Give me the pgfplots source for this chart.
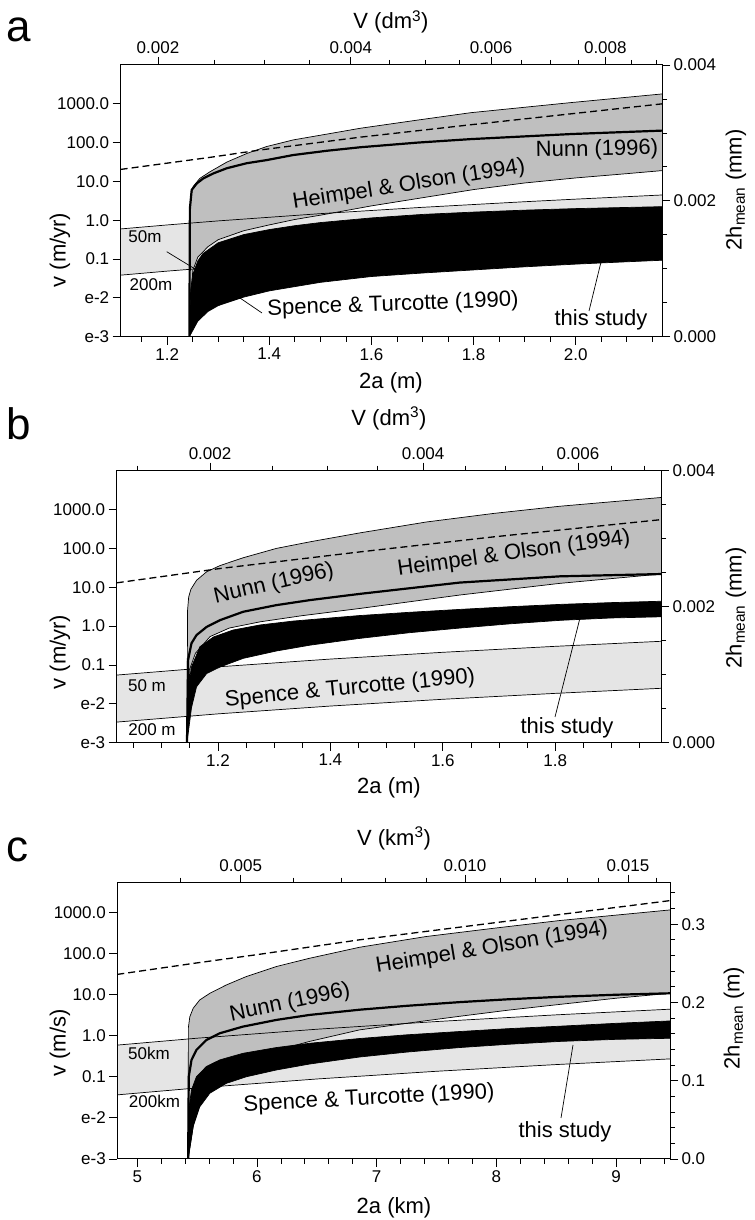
\documentclass[border=0pt]{standalone}
\usepackage{pgfplots}
\pgfplotsset{compat=1.18}
\usepgfplotslibrary{fillbetween}
\usepackage{fontspec}
\setmainfont{Liberation Sans}
\newcommand{\tlf}{\fontsize{17bp}{19bp}\selectfont}
\newcommand{\alf}{\fontsize{22bp}{24bp}\selectfont}
\newcommand{\smf}{\fontsize{17bp}{19bp}\selectfont}
\newcommand{\plf}{\fontsize{44bp}{44bp}\selectfont}
\definecolor{hogray}{gray}{0.75}
\definecolor{stgray}{gray}{0.90}
\tikzset{
  thinl/.style={black, line width=0.7bp},
  nunnl/.style={black, line width=2.2bp},
  dashl/.style={black, line width=1.3bp, dash pattern=on 7bp off 4bp},
}
\pgfplotsset{
  panel/.style={scale only axis, anchor=south west, scaled ticks=false,
    tick align=outside, major tick length=8bp, minor tick length=5bp,
    every tick/.style={black, line width=0.8bp},
    axis line style={line width=1bp},
    tick label style={font=\tlf}},
}
\begin{document}
\begin{tikzpicture}
%%%%%%%%%%%%%%%%%%%% panel a
\begin{axis}[panel, set layers, axis on top, width=541.3bp, height=271.7bp, at={(120.7bp,883.3bp)},
  xmin=1.109, xmax=2.169, ymode=log, ymin=1e-3, ymax=1e4, yminorticks=false,
  xtick={1.2,1.4,1.6,1.8,2.0}, xticklabels={1.2,1.4,1.6,1.8,2.0},
  minor xtick={1.15,1.25,1.3,1.35,1.45,1.5,1.55,1.65,1.7,1.75,1.85,1.9,1.95,2.05,2.1,2.15},
  ytick={1e-3,1e-2,1e-1,1,10,100,1000}, yticklabels={e-3,e-2,0.1,1.0,10.0,100.0,1000.0},
  xtick pos=left, ytick pos=left]
\addplot[thinl, name path=STu] coordinates {(1.109,0.597) (1.2,0.757) (1.3,0.962) (1.5,1.479) (1.7,2.153) (1.9,3.0) (2.0,3.50) (2.17,4.48)};
\addplot[thinl, name path=STl] coordinates {(1.109,0.0385) (1.2,0.0489) (1.3,0.0621) (1.5,0.0955) (1.7,0.139) (1.9,0.194) (2.0,0.226) (2.17,0.289)};
\addplot[thinl, name path=HOu] coordinates {(1.2435,0.001) (1.2445,2.0) (1.247,4.47) (1.251,7.41) (1.264,12.0) (1.284,17.8) (1.317,31.6) (1.356,52.5) (1.395,79.4) (1.447,117.5) (1.513,166) (1.578,234) (1.69,380) (1.794,589) (1.99,1072) (2.17,1799)};
\addplot[thinl, name path=HOl] coordinates {(1.2435,0.001) (1.25,0.0501) (1.26,0.112) (1.28,0.209) (1.30,0.316) (1.35,0.537) (1.40,0.759) (1.45,1.047) (1.50,1.349) (1.60,2.344) (1.70,3.802) (1.80,6.166) (1.90,9.12) (2.00,12.3) (2.10,15.85) (2.17,19.05)};
\addplot[thinl, name path=BKu] coordinates {(1.2435,0.001) (1.246,0.0158) (1.25,0.0398) (1.26,0.0891) (1.27,0.138) (1.30,0.263) (1.35,0.427) (1.40,0.575) (1.45,0.724) (1.50,0.871) (1.60,1.148) (1.70,1.413) (1.80,1.622) (1.90,1.82) (2.00,1.995) (2.10,2.138) (2.17,2.239)};
\addplot[thinl, name path=BKl] coordinates {(1.2435,0.001) (1.26,0.00251) (1.28,0.00447) (1.30,0.00631) (1.35,0.01047) (1.40,0.01514) (1.50,0.0251) (1.60,0.0355) (1.70,0.0437) (1.80,0.0525) (1.90,0.0631) (2.00,0.0741) (2.10,0.0851) (2.17,0.0933)};
\addplot[stgray] fill between[of=STu and STl];
\addplot[hogray] fill between[of=HOu and HOl];
\addplot[black] fill between[of=BKu and BKl];
\addplot[dashl] coordinates {(1.109,20.4) (1.284,41.7) (1.382,64.6) (1.578,138) (1.794,288) (1.99,550) (2.17,1000)};
\addplot[nunnl] coordinates {(1.2435,0.001) (1.2445,2.0) (1.248,6.03) (1.258,8.91) (1.271,12.0) (1.291,16.2) (1.317,21.9) (1.356,29.5) (1.395,35.5) (1.447,47.9) (1.513,61.7) (1.578,75.9) (1.69,100) (1.794,123) (1.99,166) (2.17,204)};
\end{axis}
\begin{axis}[panel, width=541.3bp, height=271.7bp, at={(120.7bp,883.3bp)},
  xmin=1.109, xmax=2.169, ymin=0, ymax=0.004,
  xtick={1.182,1.5596,1.8342,2.0580}, xticklabels={0.002,0.004,0.006,0.008},
  minor xtick={1.2924,1.3902,1.4786,1.6349,1.7053,1.7715,1.8939,1.9510,2.0056,2.1085,2.1572},
  ytick={0,0.002,0.004}, yticklabels={0.000,0.002,0.004},
  minor ytick={0.0005,0.001,0.0015,0.0025,0.003,0.0035},
  xtick pos=right, xticklabel pos=right, ytick pos=right, yticklabel pos=right]
\addplot[draw=none] coordinates {(1.5,0.002)};
\end{axis}
%%%%%%%%%%%%%%%%%%%% panel b
\begin{axis}[panel, set layers, axis on top, width=544.3bp, height=272bp, at={(116.7bp,477.3bp)},
  xmin=1.02, xmax=1.988, ymode=log, ymin=1e-3, ymax=1e4, yminorticks=false,
  xtick={1.2,1.4,1.6,1.8}, xticklabels={1.2,1.4,1.6,1.8},
  minor xtick={1.05,1.1,1.15,1.25,1.3,1.35,1.45,1.5,1.55,1.65,1.7,1.75,1.85,1.9,1.95},
  ytick={1e-3,1e-2,1e-1,1,10,100,1000}, yticklabels={e-3,e-2,0.1,1.0,10.0,100.0,1000.0},
  xtick pos=left, ytick pos=left]
\addplot[thinl, name path=STu] coordinates {(1.02,0.0550) (1.2,0.0895) (1.4,0.142) (1.6,0.212) (1.8,0.302) (1.988,0.407)};
\addplot[thinl, name path=STl] coordinates {(1.02,0.00339) (1.2,0.00552) (1.4,0.00877) (1.6,0.0131) (1.8,0.0186) (1.988,0.0251)};
\addplot[thinl, name path=HOu] coordinates {(1.145,0.001) (1.146,2.51) (1.148,5.62) (1.152,8.91) (1.162,15.1) (1.180,25.1) (1.204,36.3) (1.245,57.5) (1.304,100) (1.364,148) (1.4525,251) (1.571,479) (1.69,794) (1.808,1216) (1.988,2042)};
\addplot[thinl, name path=HOl] coordinates {(1.145,0.001) (1.15,0.0794) (1.16,0.2) (1.186,0.537) (1.22,0.891) (1.275,1.29) (1.35,1.86) (1.4525,2.85) (1.63,6.31) (1.808,12.6) (1.988,21.9)};
\addplot[thinl, name path=BKu] coordinates {(1.145,0.001) (1.147,0.0251) (1.153,0.0891) (1.168,0.295) (1.192,0.525) (1.227,0.794) (1.275,1.072) (1.334,1.349) (1.45,1.862) (1.54,2.265) (1.63,2.692) (1.72,3.162) (1.81,3.631) (1.9,4.03) (1.988,4.365)};
\addplot[thinl, name path=BKl] coordinates {(1.145,0.001) (1.153,0.00794) (1.162,0.0275) (1.18,0.0603) (1.204,0.0891) (1.245,0.148) (1.304,0.229) (1.364,0.324) (1.45,0.479) (1.54,0.676) (1.63,0.891) (1.72,1.148) (1.81,1.413) (1.9,1.622) (1.988,1.738)};
\addplot[stgray] fill between[of=STu and STl];
\addplot[hogray] fill between[of=HOu and HOl];
\addplot[black] fill between[of=BKu and BKl];
\addplot[dashl] coordinates {(1.02,13.0) (1.204,30.4) (1.4525,81.3) (1.69,198) (1.988,550)};
\addplot[nunnl] coordinates {(1.145,0.001) (1.147,0.135) (1.153,0.363) (1.162,0.589) (1.180,0.955) (1.204,1.43) (1.245,2.34) (1.304,3.47) (1.364,4.68) (1.4525,6.76) (1.63,13.2) (1.808,19.1) (1.988,21.9)};
\end{axis}
\begin{axis}[panel, width=544.3bp, height=272bp, at={(116.7bp,477.3bp)},
  xmin=1.02, xmax=1.988, ymin=0, ymax=0.004,
  xtick={1.186,1.5649,1.8404}, xticklabels={0.002,0.004,0.006},
  minor xtick={1.0571,1.2968,1.3949,1.4836,1.6405,1.7110,1.7775,1.9003,1.9576},
  ytick={0,0.002,0.004}, yticklabels={0.000,0.002,0.004},
  minor ytick={0.0005,0.001,0.0015,0.0025,0.003,0.0035},
  xtick pos=right, xticklabel pos=right, ytick pos=right, yticklabel pos=right]
\addplot[draw=none] coordinates {(1.5,0.002)};
\end{axis}
%%%%%%%%%%%%%%%%%%%% panel c
\begin{axis}[panel, set layers, axis on top, width=552.7bp, height=276.3bp, at={(117.3bp,61bp)},
  xmin=4.833, xmax=9.451, ymode=log, ymin=1e-3, ymax=5248, yminorticks=false,
  xtick={5,6,7,8,9}, xticklabels={5,6,7,8,9},
  minor xtick={5.2,5.4,5.6,5.8,6.2,6.4,6.6,6.8,7.2,7.4,7.6,7.8,8.2,8.4,8.6,8.8,9.2,9.4},
  ytick={1e-3,1e-2,1e-1,1,10,100,1000}, yticklabels={e-3,e-2,0.1,1.0,10.0,100.0,1000.0},
  xtick pos=left, ytick pos=left]
\addplot[thinl, name path=STu] coordinates {(4.833,0.589) (5.5,0.867) (6.5,1.432) (7.5,2.203) (8.5,3.206) (9.453,4.406)};
\addplot[thinl, name path=STl] coordinates {(4.833,0.0363) (5.5,0.0535) (6.5,0.0883) (7.5,0.136) (8.5,0.198) (9.453,0.272)};
\addplot[thinl, name path=HOu] coordinates {(5.425,0.001) (5.427,1.585) (5.439,2.88) (5.467,4.63) (5.522,7.40) (5.606,10.7) (5.744,17.1) (5.911,27.4) (6.161,47.9) (6.439,76.2) (6.856,141) (7.411,257) (7.971,407) (8.53,631) (9.453,1143)};
\addplot[thinl, name path=HOl] coordinates {(5.425,0.001) (5.5,0.0251) (5.7,0.112) (5.9,0.240) (6.161,0.437) (6.439,0.724) (6.856,1.38) (7.3,2.089) (7.691,2.951) (8.1,4.169) (8.53,5.754) (9.0,8.128) (9.453,10.72)};
\addplot[thinl, name path=BKu] coordinates {(5.425,0.001) (5.43,0.0158) (5.453,0.0479) (5.494,0.1) (5.578,0.178) (5.689,0.257) (5.883,0.372) (6.161,0.513) (6.439,0.652) (6.856,0.851) (7.25,1.047) (7.691,1.259) (8.1,1.479) (8.53,1.698) (9.0,1.995) (9.453,2.28)};
\addplot[thinl, name path=BKl] coordinates {(5.425,0.001) (5.467,0.00617) (5.522,0.0186) (5.606,0.0398) (5.744,0.0692) (5.911,0.1) (6.161,0.146) (6.439,0.204) (6.856,0.302) (7.25,0.398) (7.691,0.513) (8.1,0.617) (8.53,0.724) (9.0,0.813) (9.453,0.863)};
\addplot[stgray] fill between[of=STu and STl];
\addplot[hogray] fill between[of=HOu and HOl];
\addplot[black] fill between[of=BKu and BKl];
\addplot[dashl] coordinates {(4.833,30.9) (5.5,58.9) (6.0,93.3) (6.856,214) (7.971,550) (9.453,1928)};
\addplot[nunnl] coordinates {(5.425,0.001) (5.430,0.1) (5.453,0.256) (5.494,0.449) (5.578,0.785) (5.689,1.143) (5.883,1.66) (6.161,2.41) (6.439,3.19) (6.856,4.27) (7.25,5.31) (7.691,6.53) (8.1,7.67) (8.53,8.81) (9.0,9.89) (9.453,10.72)};
\end{axis}
\begin{axis}[panel, width=552.7bp, height=276.3bp, at={(117.3bp,61bp)},
  xmin=4.833, xmax=9.451, ymin=0, ymax=0.353,
  xtick={5.864,7.738,9.100}, xticklabels={0.005,0.010,0.015},
  minor xtick={5.363,6.308,6.709,7.077,7.419,8.038,8.323,8.594,8.852,9.338},
  ytick={0,0.1,0.2,0.3}, yticklabels={0.0,0.1,0.2,0.3},
  minor ytick={0.02,0.04,0.06,0.08,0.12,0.14,0.16,0.18,0.22,0.24,0.26,0.28,0.32,0.34},
  xtick pos=right, xticklabel pos=right, ytick pos=right, yticklabel pos=right]
\addplot[draw=none] coordinates {(7,0.1)};
\end{axis}
%%%%%%%%%%%%%%%%%%%% annotations
% panel a
\node[font=\plf, anchor=base west, inner sep=0] at (6bp,1178bp) {a};
\node[font=\alf] at (391bp,1198bp) {V (dm\textsuperscript{3})};
\node[font=\alf] at (391bp,837bp) {2a (m)};
\node[font=\alf, rotate=90] at (60bp,970bp) {v (m/yr)};
\node[font=\alf, rotate=90] at (736bp,1030bp) {2h\textsubscript{mean} (mm)};
\node[font=\alf, rotate=9] at (409bp,1035bp) {Heimpel \& Olson (1994)};
\node[font=\alf, rotate=1] at (597bp,1070bp) {Nunn (1996)};
\node[font=\alf, rotate=2] at (393bp,915bp) {Spence \& Turcotte (1990)};
\node[font=\alf] at (601bp,900bp) {this study};
\node[font=\smf] at (145bp,983bp) {50m};
\node[font=\smf] at (151bp,935bp) {200m};
\draw[thinl] (166.7bp,968.3bp) -- (196.7bp,950bp);
\draw[thinl] (262bp,907bp) -- (240bp,922bp);
\draw[thinl] (589bp,909bp) -- (601bp,958bp);
% panel b
\node[font=\plf, anchor=base west, inner sep=0] at (6bp,780bp) {b};
\node[font=\alf] at (389bp,801.7bp) {V (dm\textsuperscript{3})};
\node[font=\alf] at (389bp,432bp) {2a (m)};
\node[font=\alf, rotate=90] at (60bp,568bp) {v (m/yr)};
\node[font=\alf, rotate=90] at (736bp,612bp) {2h\textsubscript{mean} (mm)};
\node[font=\alf, rotate=13] at (274bp,636bp) {Nunn (1996)};
\node[font=\alf, rotate=8] at (514bp,666bp) {Heimpel \& Olson (1994)};
\node[font=\alf, rotate=5.5] at (350bp,531bp) {Spence \& Turcotte (1990)};
\node[font=\alf] at (567bp,492bp) {this study};
\node[font=\smf] at (147bp,534bp) {50 m};
\node[font=\smf] at (152bp,490bp) {200 m};
\draw[thinl] (555bp,503bp) -- (582bp,610bp);
% panel c
\node[font=\plf, anchor=base west, inner sep=0] at (6bp,358bp) {c};
\node[font=\alf] at (394bp,381.7bp) {V (km\textsuperscript{3})};
\node[font=\alf] at (394bp,12bp) {2a (km)};
\node[font=\alf, rotate=90] at (60bp,177bp) {v (m/s)};
\node[font=\alf, rotate=90] at (734bp,202bp) {2h\textsubscript{mean} (m)};
\node[font=\alf, rotate=9.3] at (492bp,272bp) {Heimpel \& Olson (1994)};
\node[font=\alf, rotate=12] at (290bp,217bp) {Nunn (1996)};
\node[font=\alf, rotate=3] at (369bp,121bp) {Spence \& Turcotte (1990)};
\node[font=\alf] at (565bp,88bp) {this study};
\node[font=\smf] at (149bp,167bp) {50km};
\node[font=\smf] at (154.5bp,118.3bp) {200km};
\draw[thinl] (561bp,102bp) -- (573bp,175bp);
\pgfresetboundingbox
\path[use as bounding box] (0,0) rectangle (755bp,1220bp);
\end{tikzpicture}
\end{document}
